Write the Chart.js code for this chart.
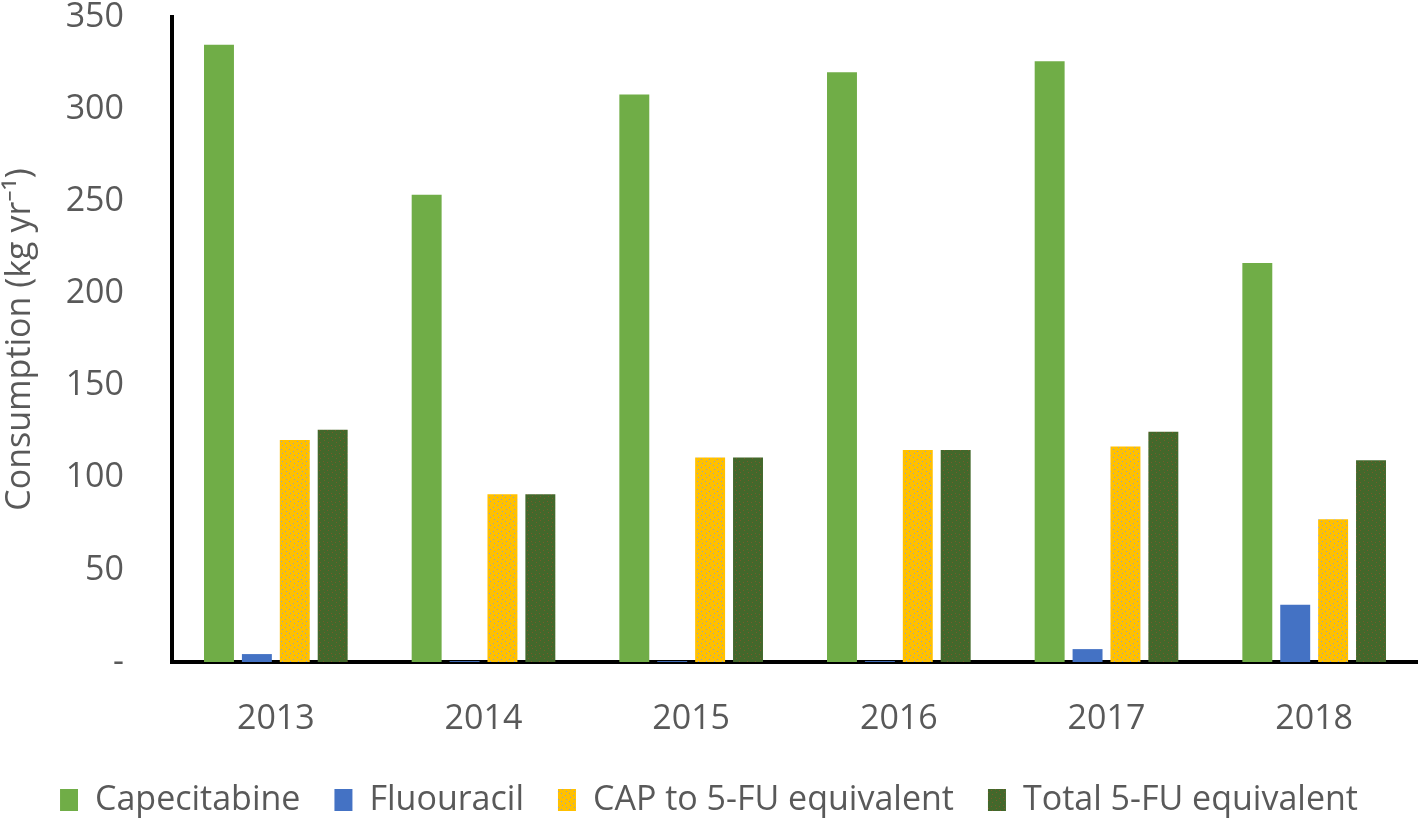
<!DOCTYPE html>
<html>
<head>
<meta charset="utf-8">
<script src="https://cdn.jsdelivr.net/npm/chart.js@4"></script>
<style>
  html, body { margin: 0; padding: 0; background: #fff; }
  #wrap { width: 1418px; height: 821px; position: relative; }
</style>
</head>
<body>
<div id="wrap"><canvas id="c" width="1418" height="821"></canvas></div>
<script>
const years = ['2013', '2014', '2015', '2016', '2017', '2018'];
const capecitabine = [335, 253.5, 308, 320, 326, 216.5];
const fluorouracil = [4.3, 0.5, 0.5, 0.5, 7, 31];
const capTo5FU = [120.5, 91, 111, 115, 117, 77.5];
const total5FU = [126, 91, 111, 115, 125, 109.5];
const yTicks = [0, 50, 100, 150, 200, 250, 300, 350];

function dotPattern(base, dot, seed) {
  const c = document.createElement('canvas');
  c.width = 8; c.height = 8;
  const g = c.getContext('2d');
  g.fillStyle = base; g.fillRect(0, 0, 8, 8);
  g.fillStyle = dot;
  const pts = seed === 1 ? [[1,1],[5,3],[2,5],[6,7]] : [[0,2],[4,0],[3,5],[7,6]];
  pts.forEach(p => g.fillRect(p[0], p[1], 1, 1));
  return g.createPattern(c, 'repeat');
}

const ctx = document.getElementById('c').getContext('2d');
const txt = '#595959';
const font = "'Open Sans', 'Noto Sans', sans-serif";

new Chart(ctx, {
  type: 'bar',
  data: {
    labels: years,
    datasets: [
      { label: 'Capecitabine', data: capecitabine, backgroundColor: '#70AD47' },
      { label: 'Fluouracil', data: fluorouracil, backgroundColor: '#4472C4' },
      { label: 'CAP to 5-FU equivalent', data: capTo5FU, backgroundColor: dotPattern('#FFC000', '#8fa0c8', 1) },
      { label: 'Total 5-FU equivalent', data: total5FU, backgroundColor: dotPattern('#43682B', '#7a5a2a', 2) }
    ]
  },
  options: {
    responsive: false,
    animation: false,
    layout: { padding: { top: 0, right: 0, left: 0, bottom: -6 } },
    datasets: { bar: { categoryPercentage: 0.73, barPercentage: 0.79 } },
    plugins: {
      legend: {
        position: 'bottom',
        labels: {
          color: txt,
          font: { family: font, size: 34, lineHeight: 1 },
          boxWidth: 18,
          boxHeight: 22,
          padding: 34
        }
      },
      tooltip: { enabled: false }
    },
    scales: {
      x: {
        grid: { display: false, drawTicks: false },
        border: { display: true, color: '#000', width: 4 },
        ticks: { color: txt, font: { family: font, size: 34 }, padding: 37 },
        afterFit: (axis) => { axis.height = 87; }
      },
      y: {
        min: 0, max: 350,
        afterBuildTicks: (axis) => { axis.ticks = yTicks.map(v => ({ value: v })); },
        grid: { display: false, drawTicks: false },
        border: { display: true, color: '#000', width: 4 },
        ticks: {
          color: txt, font: { family: font, size: 34, lineHeight: 1 }, padding: 48,
          callback: (v) => v === 0 ? '-' : v
        },
        title: {
          display: true, text: 'Consumption (kg yr⁻¹)', color: txt,
          font: { family: font, size: 34 }, padding: { top: 0, bottom: 0 }
        },
        afterFit: (axis) => { axis.width = 172; axis.paddingTop = 17; axis.paddingBottom = 17; }
      }
    }
  }
});
</script>
</body>
</html>
